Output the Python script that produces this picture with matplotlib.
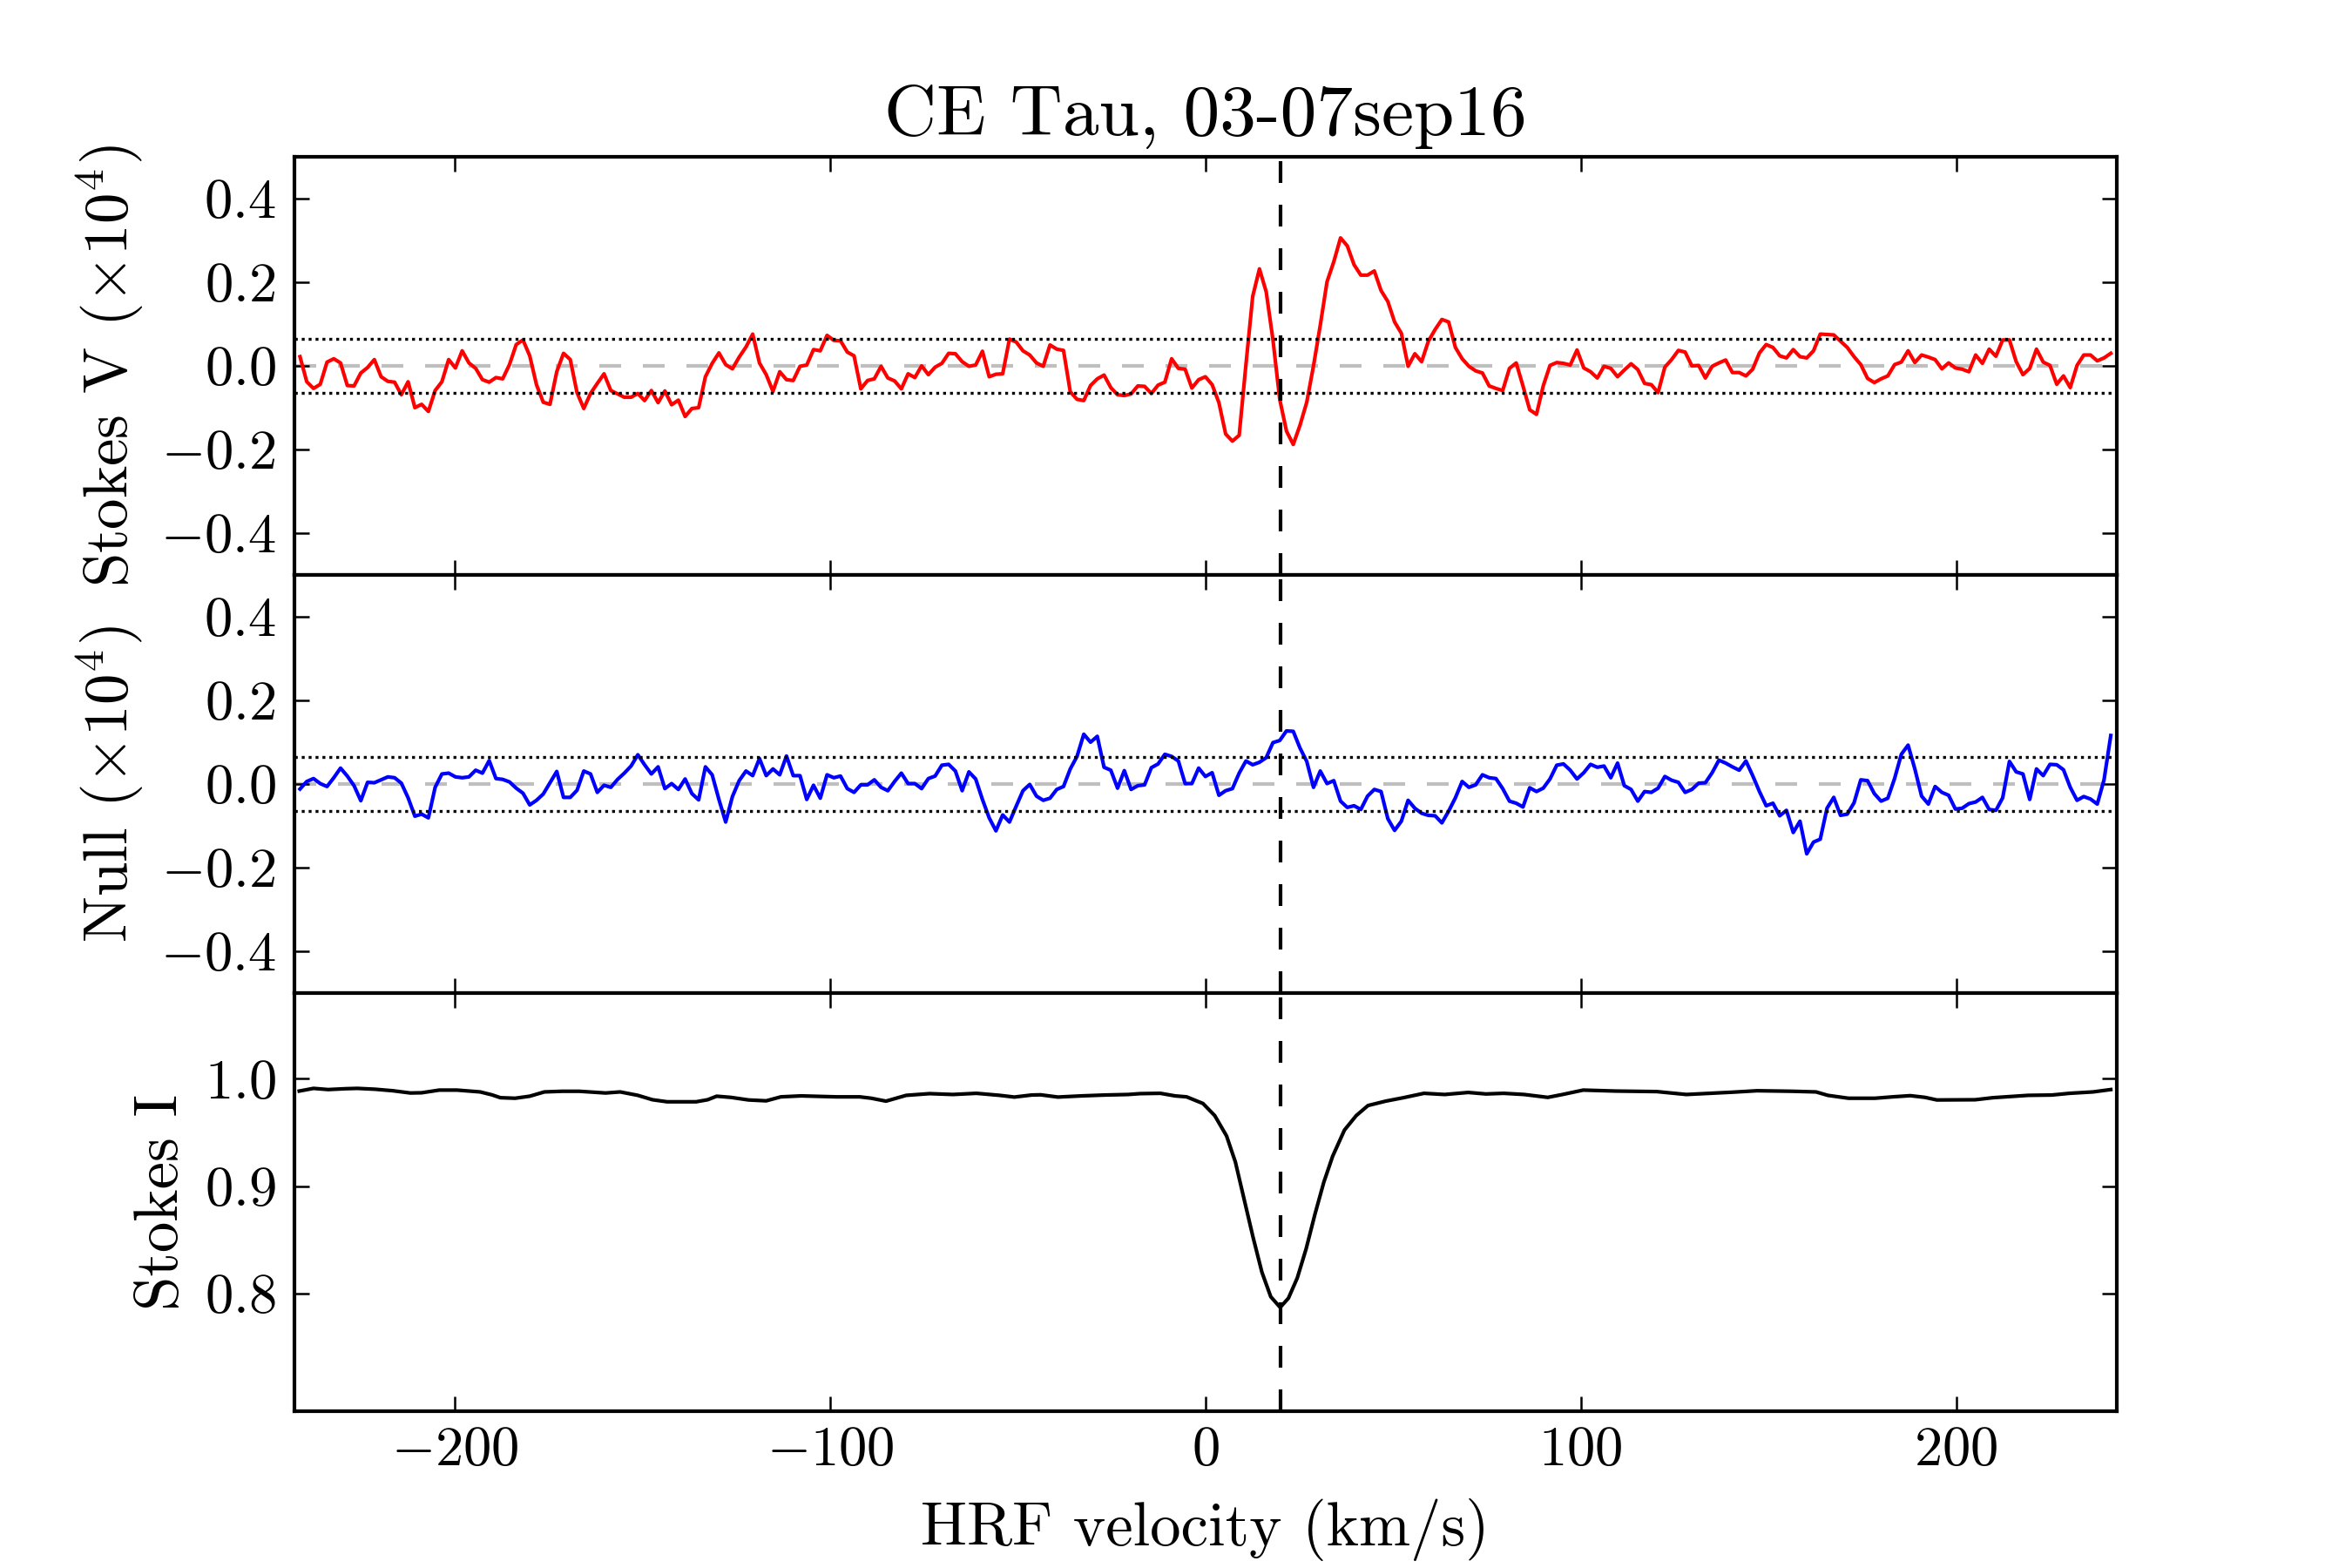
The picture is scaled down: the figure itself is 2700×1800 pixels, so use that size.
import numpy as np
import matplotlib
matplotlib.use('Agg')
import matplotlib.pyplot as plt

# LSD profiles of CE Tau (03-07sep16)
# velocity grid of the LSD profiles (km/s), 1.8 km/s pixels
vel = -241.2 + 1.8 * np.arange(269)

# Stokes V (x 1e4)
stokes_v = [
    0.022, -0.038, -0.054, -0.044, 0.009, 0.017, 0.007, -0.047, -0.048, -0.017,
    -0.004, 0.015, -0.026, -0.037, -0.039, -0.069, -0.038, -0.100, -0.092, -0.109,
    -0.059, -0.038, 0.015, -0.005, 0.036, 0.007, -0.006, -0.033, -0.039, -0.028,
    -0.031, 0.003, 0.051, 0.062, 0.024, -0.045, -0.087, -0.092, -0.014, 0.030,
    0.015, -0.064, -0.102, -0.066, -0.042, -0.019, -0.059, -0.067, -0.075, -0.075,
    -0.066, -0.083, -0.059, -0.088, -0.060, -0.093, -0.082, -0.121, -0.102, -0.100,
    -0.026, 0.006, 0.031, 0.003, -0.007, 0.021, 0.045, 0.076, 0.007, -0.021,
    -0.061, -0.014, -0.033, -0.035, -0.001, 0.002, 0.039, 0.036, 0.073, 0.061,
    0.060, 0.033, 0.024, -0.055, -0.035, -0.031, -0.001, -0.029, -0.036, -0.055,
    -0.019, -0.028, 0.000, -0.021, -0.003, 0.006, 0.030, 0.029, 0.010, -0.001,
    0.002, 0.035, -0.026, -0.020, -0.019, 0.064, 0.057, 0.036, 0.026, 0.007,
    -0.001, 0.050, 0.040, 0.037, -0.062, -0.080, -0.083, -0.047, -0.031, -0.022,
    -0.052, -0.069, -0.071, -0.067, -0.048, -0.049, -0.066, -0.046, -0.039, 0.017,
    -0.006, -0.008, -0.053, -0.033, -0.026, -0.045, -0.088, -0.163, -0.180, -0.166,
    0.003, 0.166, 0.232, 0.177, 0.062, -0.080, -0.156, -0.188, -0.142, -0.087,
    0.000, 0.097, 0.201, 0.249, 0.306, 0.287, 0.242, 0.217, 0.217, 0.227,
    0.180, 0.154, 0.105, 0.078, -0.001, 0.029, 0.010, 0.059, 0.087, 0.111,
    0.105, 0.044, 0.017, -0.001, -0.012, -0.017, -0.048, -0.054, -0.059, -0.006,
    0.007, -0.048, -0.105, -0.116, -0.048, 0.001, 0.008, 0.006, 0.002, 0.038,
    -0.005, -0.014, -0.029, -0.001, -0.006, -0.026, -0.010, 0.005, -0.009, -0.042,
    -0.045, -0.064, -0.003, 0.015, 0.037, 0.033, 0.000, 0.001, -0.029, -0.001,
    0.007, 0.014, -0.016, -0.016, -0.024, -0.008, 0.031, 0.051, 0.044, 0.024,
    0.019, 0.039, 0.022, 0.019, 0.036, 0.076, 0.075, 0.074, 0.059, 0.044,
    0.022, 0.003, -0.030, -0.040, -0.031, -0.024, 0.003, 0.009, 0.036, 0.008,
    0.026, 0.021, 0.015, -0.007, 0.007, -0.005, -0.008, -0.014, 0.026, 0.006,
    0.040, 0.023, 0.062, 0.062, 0.010, -0.021, -0.006, 0.040, 0.009, 0.001,
    -0.044, -0.024, -0.052, 0.001, 0.026, 0.026, 0.012, 0.019, 0.030,
]

# Null profile (x 1e4)
null_n = [
    -0.012, 0.006, 0.013, 0.001, -0.006, 0.015, 0.038, 0.019, -0.004, -0.040,
    0.004, 0.003, 0.010, 0.017, 0.015, 0.002, -0.033, -0.077, -0.072, -0.081,
    -0.008, 0.024, 0.026, 0.017, 0.015, 0.017, 0.033, 0.026, 0.056, 0.013,
    0.011, 0.005, -0.010, -0.022, -0.050, -0.039, -0.024, 0.003, 0.030, -0.032,
    -0.032, -0.015, 0.031, 0.024, -0.020, -0.003, -0.008, 0.011, 0.026, 0.043,
    0.070, 0.046, 0.024, 0.041, -0.011, 0.001, -0.013, 0.012, -0.023, -0.038,
    0.041, 0.022, -0.037, -0.091, -0.030, 0.008, 0.031, 0.020, 0.061, 0.020,
    0.036, 0.022, 0.067, 0.020, 0.020, -0.037, -0.003, -0.034, 0.022, 0.015,
    0.019, -0.011, -0.020, -0.002, -0.002, 0.010, -0.008, -0.016, 0.006, 0.026,
    0.001, 0.001, -0.011, 0.013, 0.019, 0.045, 0.047, 0.031, -0.016, 0.029,
    0.012, -0.037, -0.081, -0.112, -0.074, -0.091, -0.053, -0.016, -0.001, -0.029,
    -0.039, -0.034, -0.013, -0.006, 0.036, 0.066, 0.119, 0.100, 0.114, 0.040,
    0.033, -0.010, 0.032, -0.013, -0.004, -0.002, 0.039, 0.048, 0.071, 0.066,
    0.055, 0.001, 0.001, 0.038, 0.018, 0.027, -0.027, -0.016, -0.011, 0.026,
    0.055, 0.046, 0.052, 0.063, 0.099, 0.104, 0.127, 0.126, 0.086, 0.054,
    -0.008, 0.031, 0.001, 0.008, -0.041, -0.056, -0.052, -0.061, -0.029, -0.013,
    -0.018, -0.083, -0.111, -0.089, -0.039, -0.058, -0.070, -0.075, -0.076, -0.093,
    -0.065, -0.033, 0.006, -0.008, -0.002, 0.022, 0.015, 0.013, -0.011, -0.041,
    -0.046, -0.055, -0.009, -0.018, -0.010, 0.012, 0.045, 0.048, 0.033, 0.012,
    0.027, 0.047, 0.040, 0.043, 0.015, 0.050, -0.004, -0.013, -0.041, -0.018,
    -0.020, -0.010, 0.018, 0.009, 0.004, -0.020, -0.013, 0.002, 0.003, 0.027,
    0.057, 0.050, 0.041, 0.033, 0.055, 0.020, -0.018, -0.052, -0.046, -0.076,
    -0.063, -0.116, -0.089, -0.167, -0.139, -0.132, -0.058, -0.032, -0.075, -0.072,
    -0.045, 0.010, 0.008, -0.023, -0.041, -0.034, 0.013, 0.071, 0.093, 0.036,
    -0.029, -0.048, -0.006, -0.020, -0.027, -0.060, -0.058, -0.047, -0.043, -0.032,
    -0.061, -0.063, -0.033, 0.054, 0.029, 0.024, -0.037, 0.036, 0.020, 0.047,
    0.046, 0.034, -0.008, -0.039, -0.030, -0.036, -0.048, 0.010, 0.116,
]

# Stokes I, sampled along the smooth curve
vel_i = [
    -241.4, -237.6, -233.7, -229.0, -225.9, -221.2, -216.5, -211.8, -208.8, -204.1,
    -199.4, -193.2, -190.1, -187.8, -183.9, -180.0, -176.1, -171.4, -166.8, -159.8,
    -155.9, -151.2, -147.3, -143.4, -135.7, -132.6, -130.2, -126.4, -121.7, -117.0,
    -113.1, -107.7, -98.3, -92.1, -89.0, -85.1, -79.7, -73.5, -67.3, -61.0,
    -54.8, -50.9, -46.3, -43.9, -39.3, -33.0, -26.8, -20.6, -17.4, -12.0,
    -8.1, -5.0, -0.65, 2.49, 5.63, 7.99, 10.34, 12.70, 15.05, 17.41,
    19.92, 22.12, 24.48, 26.83, 29.19, 31.54, 33.90, 37.04, 40.18, 43.32,
    48.03, 52.74, 58.24, 63.74, 70.02, 74.73, 79.44, 84.93, 91.21, 95.14,
    100.64, 109.28, 120.27, 128.12, 134.40, 140.68, 146.97, 156.39, 162.67, 165.81,
    171.31, 178.37, 183.08, 187.79, 191.72, 194.86, 205.07, 209.78, 219.20, 225.48,
    230.19, 236.47, 241.19,
]
stokes_i = [
    0.9886, 0.9911, 0.9900, 0.9908, 0.9911, 0.9903, 0.9889, 0.9868, 0.9870, 0.9895,
    0.9895, 0.9878, 0.9851, 0.9824, 0.9819, 0.9838, 0.9878, 0.9884, 0.9884, 0.9868,
    0.9878, 0.9846, 0.9805, 0.9786, 0.9786, 0.9805, 0.9838, 0.9827, 0.9803, 0.9795,
    0.9832, 0.9841, 0.9832, 0.9832, 0.9819, 0.9792, 0.9846, 0.9862, 0.9854, 0.9865,
    0.9846, 0.9830, 0.9849, 0.9851, 0.9830, 0.9841, 0.9849, 0.9854, 0.9862, 0.9865,
    0.9841, 0.9832, 0.9770, 0.9657, 0.9468, 0.9224, 0.8873, 0.8522, 0.8197, 0.7968,
    0.7868, 0.7954, 0.8143, 0.8414, 0.8738, 0.9035, 0.9278, 0.9522, 0.9657, 0.9751,
    0.9792, 0.9824, 0.9865, 0.9854, 0.9873, 0.9859, 0.9865, 0.9854, 0.9827, 0.9854,
    0.9895, 0.9886, 0.9881, 0.9854, 0.9865, 0.9876, 0.9889, 0.9884, 0.9878, 0.9846,
    0.9819, 0.9819, 0.9832, 0.9843, 0.9827, 0.9803, 0.9805, 0.9824, 0.9846, 0.9849,
    0.9865, 0.9878, 0.9900,
]

v_rad = 20.0      # radial velocity marker
sigma = 0.064     # mean error bar level

plt.rcParams['font.family'] = 'serif'
plt.rcParams['font.serif'] = ['cmr10']
plt.rcParams['mathtext.fontset'] = 'cm'
plt.rcParams['axes.formatter.use_mathtext'] = True
plt.rcParams['lines.scale_dashes'] = False

fig, axes = plt.subplots(3, 1, figsize=(9, 6), dpi=300, sharex=True)
fig.subplots_adjust(left=0.125, right=0.9, bottom=0.1, top=0.9, hspace=0)
ax1, ax2, ax3 = axes

ax1.plot(vel, stokes_v, color='r', lw=1.0)
ax2.plot(vel, null_n, color='b', lw=1.0)
ax3.plot(vel_i, stokes_i, color='k', lw=1.0)

for ax in (ax1, ax2):
    ax.axhline(0, color='0.75', ls='--', dashes=(6, 6), lw=1.0, zorder=1)
    ax.axhline(sigma, color='k', ls=':', dashes=(0.8, 1.1), lw=0.8)
    ax.axhline(-sigma, color='k', ls=':', dashes=(0.8, 1.1), lw=0.8)
    ax.set_ylim(-0.5, 0.5)
    ax.set_yticks([-0.4, -0.2, 0.0, 0.2, 0.4])

for ax in axes:
    ax.axvline(v_rad, color='k', ls='--', dashes=(6, 6), lw=1.0)
    ax.tick_params(direction='in', top=True, right=True, length=4, width=0.6,
                   labelsize=15.5)
    ax.tick_params(axis='y', pad=5)
    ax.tick_params(axis='x', pad=4)
    for sp in ax.spines.values():
        sp.set_linewidth(1.0)

ax3.set_ylim(0.69, 1.08)
ax3.set_yticks([0.8, 0.9, 1.0])
ax3.set_xlim(-242.8, 242.8)
ax3.set_xticks([-200, -100, 0, 100, 200])

ax1.set_title('CE Tau, 03-07sep16', fontsize=20)
ax1.set_ylabel(r'Stokes V $(\times10^4)$', fontsize=17)
ax2.set_ylabel(r'Null $(\times10^4)$', fontsize=17)
ax3.set_ylabel('Stokes I', fontsize=17)
ax3.set_xlabel('HRF velocity (km/s)', fontsize=17, labelpad=6)

fig.savefig('out.png', dpi=300, facecolor='white')
